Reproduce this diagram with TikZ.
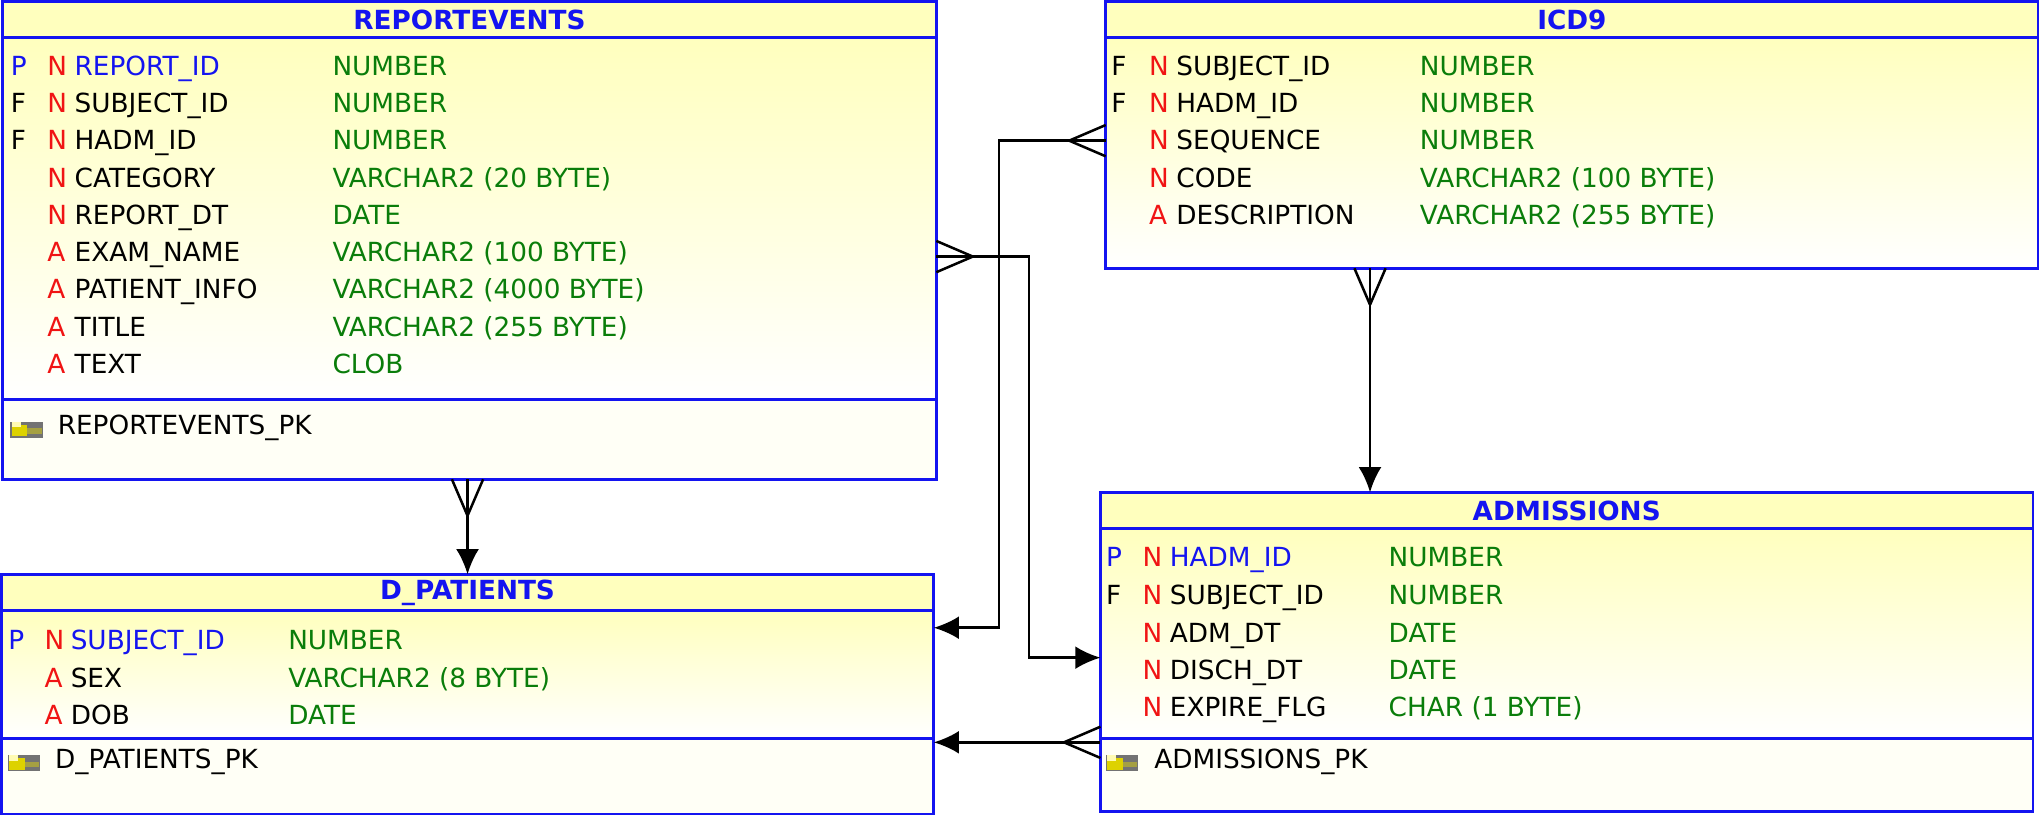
\documentclass[tikz,border=0pt]{standalone}
\usepackage{fontspec}
\setmainfont{DejaVu Sans}
\usetikzlibrary{positioning,arrows.meta}
\definecolor{tblue}{RGB}{20,20,240}
\definecolor{tgreen}{RGB}{10,125,10}
\definecolor{tred}{RGB}{240,20,20}
\definecolor{thead}{RGB}{255,255,190}
\definecolor{tpk}{RGB}{255,255,246}
\tikzset{
  tbl/.style={draw=tblue,line width=1.2pt},
  hdr/.style={font=\bfseries\fontsize{11.5}{13}\selectfont,text=tblue},
  txt/.style={anchor=base west,inner sep=0pt,font=\fontsize{11.5}{13}\selectfont},
  conn/.style={line width=1.1pt},
  arr/.style={conn,-{Latex[length=11pt,width=10pt]}}
}
% one column row: x-flag, x-null, x-name, x-type, y, flag, null, name, type
\newcommand{\tabrow}[9]{%
  \node[txt,text=tblue] at (#1,#5+7) {#6};
  \node[txt,text=tred] at (#2,#5+7) {#7};
  \node[txt] at (#3,#5+7) {#8};
  \node[txt,text=tgreen] at (#4,#5+7) {#9};}
% table frame: name, left, top, right, bottom, header bottom, separator, title
\newcommand{\tabframe}[8]{%
  \shade[top color=thead,bottom color=white] (#2,#6) rectangle (#4,#7);
  \fill[tpk] (#2,#7) rectangle (#4,#5);
  \fill[thead] (#2,#3) rectangle (#4,#6);
  \draw[tbl] (#2,#3) rectangle (#4,#5);
  \draw[tbl] (#2,#6) -- (#4,#6);
  \draw[tbl] (#2,#7) -- (#4,#7);
  \coordinate (#1-nw) at (#2,#3);
  \node[hdr] (#1) at ({(#2+#4)/2},{(#3+#6)/2}) {#8};}
% key icon
\newcommand{\keyicon}[2]{%
  \fill[black!55] (#1,#2-6) rectangle (#1+25,#2+6);
  \fill[yellow!70!olive] (#1+1,#2-4) rectangle (#1+13,#2+5);
  \fill[yellow!30] (#1+1,#2-6) rectangle (#1+8,#2-2);
  \fill[yellow!60!black] (#1+13,#2-1) rectangle (#1+24,#2+3);}
% crow's foot: edge point, dx, dy (unit outward)
\newcommand{\crow}[4]{%
  \draw[conn] (#1,#2) ++(#3*28,#4*28) coordinate (cf) -- ++(-#3*28+#4*12,-#4*28+#3*12);
  \draw[conn] (cf) -- (#1,#2);
  \draw[conn] (cf) -- ++(-#3*28-#4*12,-#4*28-#3*12);}

\begin{document}
\begin{tikzpicture}[x=0.02cm,y=-0.02cm]
\useasboundingbox (0,0) rectangle (1568,627);

% REPORTEVENTS
\tabframe{rep}{2}{1}{719}{368}{29}{307}{REPORTEVENTS}
\tabrow{8}{36}{57}{255}{51}{P}{N}{\textcolor{tblue}{REPORT\_ID}}{NUMBER}
\tabrow{8}{36}{57}{255}{79}{\textcolor{black}{F}}{N}{SUBJECT\_ID}{NUMBER}
\tabrow{8}{36}{57}{255}{108}{\textcolor{black}{F}}{N}{HADM\_ID}{NUMBER}
\tabrow{8}{36}{57}{255}{137}{}{N}{CATEGORY}{VARCHAR2 (20 BYTE)}
\tabrow{8}{36}{57}{255}{165}{}{N}{REPORT\_DT}{DATE}
\tabrow{8}{36}{57}{255}{194}{}{A}{EXAM\_NAME}{VARCHAR2 (100 BYTE)}
\tabrow{8}{36}{57}{255}{222}{}{A}{PATIENT\_INFO}{VARCHAR2 (4000 BYTE)}
\tabrow{8}{36}{57}{255}{251}{}{A}{TITLE}{VARCHAR2 (255 BYTE)}
\tabrow{8}{36}{57}{255}{280}{}{A}{TEXT}{CLOB}
\keyicon{8}{330}
\node[txt] (rep-pk) at (44,334) {REPORTEVENTS\_PK};

% ICD9
\tabframe{icd}{849}{1}{1565}{206}{29}{206}{ICD9}
\tabrow{853}{882}{903}{1090}{51}{\textcolor{black}{F}}{N}{SUBJECT\_ID}{NUMBER}
\tabrow{853}{882}{903}{1090}{79}{\textcolor{black}{F}}{N}{HADM\_ID}{NUMBER}
\tabrow{853}{882}{903}{1090}{108}{}{N}{SEQUENCE}{NUMBER}
\tabrow{853}{882}{903}{1090}{137}{}{N}{CODE}{VARCHAR2 (100 BYTE)}
\tabrow{853}{882}{903}{1090}{165}{}{A}{DESCRIPTION}{VARCHAR2 (255 BYTE)}

% ADMISSIONS
\tabframe{adm}{845}{378}{1561}{623}{406}{567}{ADMISSIONS}
\tabrow{849}{877}{898}{1066}{428}{P}{N}{\textcolor{tblue}{HADM\_ID}}{NUMBER}
\tabrow{849}{877}{898}{1066}{457}{\textcolor{black}{F}}{N}{SUBJECT\_ID}{NUMBER}
\tabrow{849}{877}{898}{1066}{486}{}{N}{ADM\_DT}{DATE}
\tabrow{849}{877}{898}{1066}{515}{}{N}{DISCH\_DT}{DATE}
\tabrow{849}{877}{898}{1066}{543}{}{N}{EXPIRE\_FLG}{CHAR (1 BYTE)}
\keyicon{849}{586}
\node[txt] (adm-pk) at (886,590) {ADMISSIONS\_PK};

% D_PATIENTS
\tabframe{pat}{1}{441}{717}{625}{469}{567}{D\_PATIENTS}
\tabrow{6}{34}{54}{221}{492}{P}{N}{\textcolor{tblue}{SUBJECT\_ID}}{NUMBER}
\tabrow{6}{34}{54}{221}{521}{}{A}{SEX}{VARCHAR2 (8 BYTE)}
\tabrow{6}{34}{54}{221}{549}{}{A}{DOB}{DATE}
\keyicon{6}{586}
\node[txt] (pat-pk) at (42,590) {D\_PATIENTS\_PK};

% relations
\coordinate (r1a) at (359,368); \coordinate (r1b) at (359,441);
\crow{359}{368}{0}{1}
\draw[arr] (r1a) -- (r1b);
\coordinate (r2a) at (1052,206); \coordinate (r2b) at (1052,378);
\crow{1052}{206}{0}{1}
\draw[arr] (r2a) -- (r2b);
\coordinate (r3a) at (849,108); \coordinate (r3b) at (717,482);
\crow{849}{108}{-1}{0}
\draw[arr] (r3a) -- (767,108) |- (r3b);
\coordinate (r4a) at (719,197); \coordinate (r4b) at (845,505);
\crow{719}{197}{1}{0}
\draw[arr] (r4a) -- (790,197) |- (r4b);
\coordinate (r5a) at (845,570); \coordinate (r5b) at (717,570);
\crow{845}{570}{-1}{0}
\draw[arr] (r5a) -- (r5b);
\end{tikzpicture}
\end{document}
